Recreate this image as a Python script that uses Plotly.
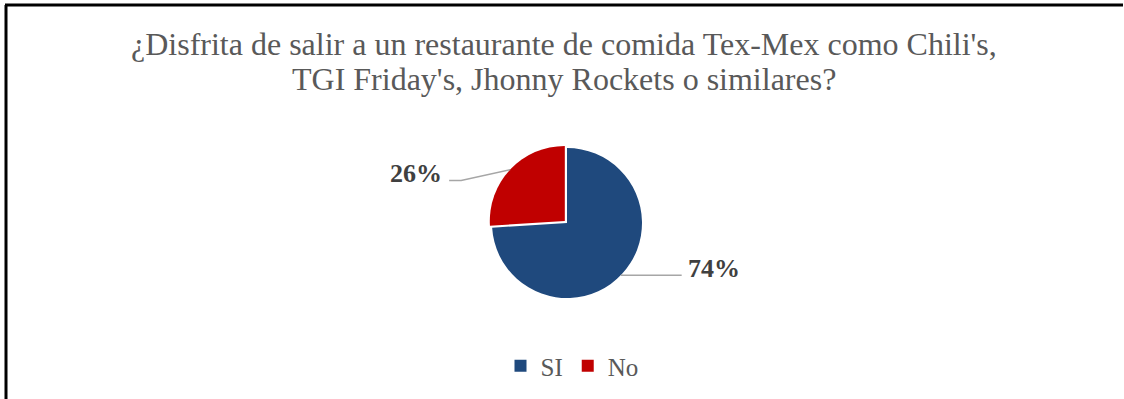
import math
import plotly.graph_objects as go

# ---- data ----
labels = ["SI", "No"]
values = [74, 26]
title_lines = [
    "¿Disfrita de salir a un restaurante de comida Tex-Mex como Chili's,",
    "TGI Friday's, Jhonny Rockets o similares?",
]

# ---- style ----
W, H = 1124, 399
colors = ["#1F497D", "#C00000"]
pulls = [0.0, 0.04]
CX, CY, R = 567, 223, 75          # pie centre / radius in pixels
SERIF = "Liberation Serif, Times New Roman, serif"


def px(x):
    return x / W


def py(y):
    return 1 - y / H


half = R * (1 + max(pulls))
fig = go.Figure(go.Pie(
    labels=labels, values=values, sort=False, direction="clockwise",
    rotation=0, pull=pulls, textinfo="none", hoverinfo="label+percent",
    marker=dict(colors=colors, line=dict(color="white", width=0)),
    domain=dict(x=[px(CX - half), px(CX + half)], y=[py(CY + half), py(CY - half)]),
))

shapes = []
annotations = []

# border (top and left edges only, as in the reference)
shapes.append(dict(type="line", xref="paper", yref="paper",
                   x0=px(6), y0=py(H + 2), x1=px(6), y1=py(5),
                   line=dict(color="black", width=3)))
shapes.append(dict(type="line", xref="paper", yref="paper",
                   x0=px(5), y0=py(5), x1=px(1123), y1=py(5),
                   line=dict(color="black", width=3)))

# title (two lines)
for line, yc in zip(title_lines, [44, 79]):
    annotations.append(dict(text=line, xref="paper", yref="paper",
                            x=px(564), y=py(yc), xanchor="center", yanchor="middle",
                            showarrow=False,
                            font=dict(family=SERIF, size=32, color="#595959")))

# data labels with leader lines, anchored at each slice's mid-angle
leader = {"SI": [(0, 1), (60, 1)], "No": [(-49, 11), (-61, 11)]}
label_off = {"SI": (64, -6, "left"), "No": (-66, 4, "right")}
total = sum(values)
cum = 0
for lab, v, p in zip(labels, values, pulls):
    mid = (cum + v / 2) / total
    cum += v
    th = 2 * math.pi * mid
    rr = R * (1 + p)
    ax = CX + rr * math.sin(th)
    ay = CY - rr * math.cos(th)
    pts = [(ax, ay)] + [(ax + dx, ay + dy) for dx, dy in leader[lab]]
    path = "M " + " L ".join(f"{px(x):.5f},{py(y):.5f}" for x, y in pts)
    shapes.append(dict(type="path", xref="paper", yref="paper", path=path,
                       line=dict(color="#A6A6A6", width=1.5)))
    ox, oy, anc = label_off[lab]
    annotations.append(dict(text=f"<b>{round(v / total * 100)}%</b>",
                            xref="paper", yref="paper",
                            x=px(ax + ox), y=py(ay + oy),
                            xanchor=anc, yanchor="middle", showarrow=False,
                            font=dict(family=SERIF, size=26, color="#404040")))

fig.update_layout(
    width=W, height=H,
    margin=dict(l=0, r=0, t=0, b=0),
    paper_bgcolor="white", plot_bgcolor="white",
    showlegend=True,
    legend=dict(orientation="h", x=px(572), xanchor="center",
                y=py(366), yanchor="middle",
                font=dict(family=SERIF, size=25, color="#595959"),
                bgcolor="rgba(0,0,0,0)"),
    shapes=shapes,
    annotations=annotations,
)

fig.write_html("out.html")
